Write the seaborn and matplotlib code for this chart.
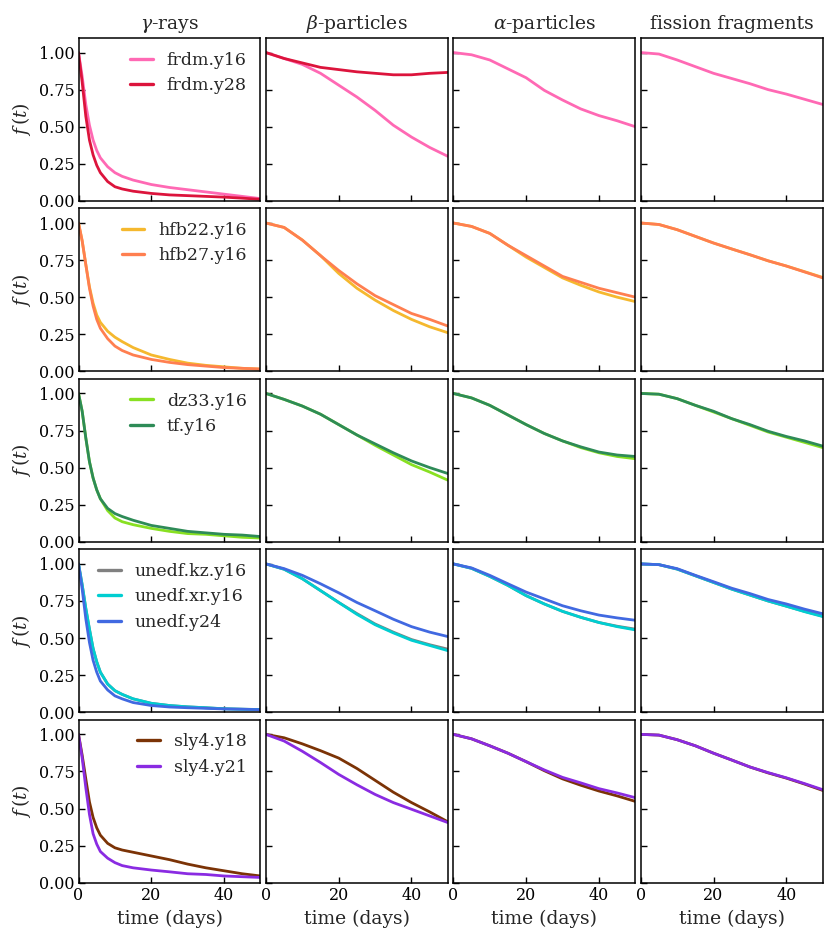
import numpy as np
import pandas as pd
import matplotlib
matplotlib.use('Agg')
import matplotlib.pyplot as plt
import seaborn as sns

# time grids (days)
t_gamma = [0, 1, 2, 3, 4, 5, 6, 8, 10, 12, 15, 20, 25, 30, 35, 40, 45, 50]
t_slow = [0, 5, 10, 15, 20, 25, 30, 35, 40, 45, 50]

rows = [['frdm.y16', 'frdm.y28'],
        ['hfb22.y16', 'hfb27.y16'],
        ['dz33.y16', 'tf.y16'],
        ['unedf.kz.y16', 'unedf.xr.y16', 'unedf.y24'],
        ['sly4.y18', 'sly4.y21']]

colors = {'frdm.y16': '#ff69b4', 'frdm.y28': '#dc143c',
          'hfb22.y16': '#f5b82e', 'hfb27.y16': '#ff7f50',
          'dz33.y16': '#88e022', 'tf.y16': '#2e8b57',
          'unedf.kz.y16': '#808080', 'unedf.xr.y16': '#00ced1', 'unedf.y24': '#4169e1',
          'sly4.y18': '#7b3306', 'sly4.y21': '#8a2be2'}

gamma = {
    'frdm.y16': [1.0, 0.84, 0.65, 0.51, 0.41, 0.34, 0.29, 0.23, 0.19, 0.165, 0.14, 0.11, 0.09, 0.075, 0.06, 0.045, 0.03, 0.015],
    'frdm.y28': [1.0, 0.80, 0.57, 0.41, 0.31, 0.24, 0.19, 0.13, 0.095, 0.08, 0.065, 0.05, 0.04, 0.035, 0.03, 0.025, 0.018, 0.01],
    'hfb22.y16': [1.0, 0.88, 0.72, 0.57, 0.46, 0.38, 0.33, 0.27, 0.23, 0.2, 0.16, 0.11, 0.08, 0.055, 0.04, 0.03, 0.02, 0.015],
    'hfb27.y16': [1.0, 0.88, 0.72, 0.56, 0.44, 0.35, 0.29, 0.22, 0.17, 0.14, 0.11, 0.08, 0.06, 0.045, 0.035, 0.025, 0.02, 0.015],
    'dz33.y16': [1.0, 0.88, 0.70, 0.54, 0.43, 0.35, 0.29, 0.21, 0.16, 0.135, 0.115, 0.09, 0.07, 0.055, 0.05, 0.04, 0.03, 0.025],
    'tf.y16': [1.0, 0.88, 0.70, 0.54, 0.43, 0.35, 0.29, 0.225, 0.19, 0.17, 0.145, 0.11, 0.09, 0.07, 0.06, 0.05, 0.045, 0.035],
    'unedf.kz.y16': [1.0, 0.86, 0.70, 0.56, 0.43, 0.34, 0.27, 0.19, 0.145, 0.12, 0.09, 0.06, 0.045, 0.036, 0.03, 0.023, 0.02, 0.018],
    'unedf.xr.y16': [1.0, 0.86, 0.70, 0.56, 0.43, 0.34, 0.27, 0.19, 0.145, 0.12, 0.09, 0.06, 0.045, 0.036, 0.03, 0.023, 0.02, 0.018],
    'unedf.y24': [1.0, 0.83, 0.63, 0.47, 0.35, 0.27, 0.21, 0.15, 0.11, 0.09, 0.065, 0.045, 0.035, 0.03, 0.026, 0.022, 0.02, 0.017],
    'sly4.y18': [1.0, 0.86, 0.70, 0.545, 0.44, 0.37, 0.32, 0.265, 0.235, 0.22, 0.205, 0.18, 0.155, 0.125, 0.10, 0.08, 0.06, 0.045],
    'sly4.y21': [1.0, 0.84, 0.64, 0.46, 0.33, 0.26, 0.21, 0.165, 0.135, 0.115, 0.10, 0.085, 0.073, 0.06, 0.055, 0.045, 0.04, 0.035],
}

beta = {
    'frdm.y16': [1.0, 0.96, 0.92, 0.86, 0.78, 0.70, 0.61, 0.51, 0.43, 0.36, 0.30],
    'frdm.y28': [1.0, 0.96, 0.93, 0.90, 0.885, 0.87, 0.86, 0.85, 0.85, 0.86, 0.866],
    'hfb22.y16': [1.0, 0.97, 0.885, 0.78, 0.66, 0.56, 0.48, 0.41, 0.35, 0.30, 0.26],
    'hfb27.y16': [1.0, 0.97, 0.885, 0.78, 0.68, 0.59, 0.51, 0.45, 0.39, 0.35, 0.305],
    'dz33.y16': [1.0, 0.96, 0.915, 0.86, 0.79, 0.72, 0.65, 0.585, 0.52, 0.47, 0.415],
    'tf.y16': [1.0, 0.96, 0.915, 0.86, 0.79, 0.72, 0.66, 0.60, 0.545, 0.50, 0.46],
    'unedf.kz.y16': [1.0, 0.964, 0.90, 0.82, 0.74, 0.665, 0.595, 0.54, 0.49, 0.455, 0.425],
    'unedf.xr.y16': [1.0, 0.964, 0.90, 0.82, 0.74, 0.66, 0.59, 0.535, 0.485, 0.45, 0.415],
    'unedf.y24': [1.0, 0.968, 0.923, 0.866, 0.805, 0.74, 0.684, 0.627, 0.577, 0.54, 0.51],
    'sly4.y18': [1.0, 0.977, 0.936, 0.89, 0.84, 0.77, 0.69, 0.61, 0.54, 0.477, 0.41],
    'sly4.y21': [1.0, 0.955, 0.886, 0.81, 0.73, 0.66, 0.595, 0.54, 0.495, 0.45, 0.405],
}

alpha = {
    'frdm.y16': [1.0, 0.985, 0.95, 0.89, 0.83, 0.745, 0.68, 0.62, 0.575, 0.54, 0.50],
    'hfb22.y16': [1.0, 0.977, 0.93, 0.85, 0.77, 0.70, 0.63, 0.58, 0.535, 0.50, 0.47],
    'hfb27.y16': [1.0, 0.977, 0.93, 0.85, 0.78, 0.71, 0.64, 0.60, 0.56, 0.53, 0.50],
    'dz33.y16': [1.0, 0.97, 0.92, 0.855, 0.79, 0.73, 0.68, 0.635, 0.60, 0.575, 0.56],
    'tf.y16': [1.0, 0.97, 0.92, 0.855, 0.79, 0.73, 0.68, 0.64, 0.605, 0.585, 0.575],
    'unedf.kz.y16': [1.0, 0.97, 0.916, 0.855, 0.786, 0.73, 0.68, 0.64, 0.605, 0.58, 0.56],
    'unedf.xr.y16': [1.0, 0.97, 0.916, 0.855, 0.786, 0.73, 0.68, 0.64, 0.605, 0.577, 0.555],
    'unedf.y24': [1.0, 0.973, 0.923, 0.866, 0.81, 0.764, 0.718, 0.684, 0.655, 0.636, 0.62],
    'sly4.y18': [1.0, 0.97, 0.923, 0.873, 0.816, 0.755, 0.70, 0.657, 0.618, 0.585, 0.548],
    'sly4.y21': [1.0, 0.97, 0.923, 0.873, 0.816, 0.76, 0.71, 0.673, 0.634, 0.605, 0.573],
}

fission = {
    'frdm.y16': [1.0, 0.99, 0.95, 0.905, 0.86, 0.825, 0.79, 0.75, 0.72, 0.685, 0.65],
    'hfb22.y16': [1.0, 0.99, 0.955, 0.91, 0.865, 0.825, 0.786, 0.745, 0.71, 0.672, 0.633],
    'hfb27.y16': [1.0, 0.99, 0.955, 0.91, 0.865, 0.825, 0.786, 0.745, 0.71, 0.67, 0.63],
    'dz33.y16': [1.0, 0.995, 0.965, 0.92, 0.875, 0.83, 0.785, 0.74, 0.705, 0.67, 0.635],
    'tf.y16': [1.0, 0.995, 0.965, 0.92, 0.88, 0.83, 0.79, 0.745, 0.71, 0.68, 0.645],
    'unedf.kz.y16': [1.0, 0.995, 0.965, 0.92, 0.875, 0.83, 0.79, 0.75, 0.715, 0.68, 0.648],
    'unedf.xr.y16': [1.0, 0.995, 0.965, 0.92, 0.875, 0.83, 0.79, 0.75, 0.715, 0.678, 0.645],
    'unedf.y24': [1.0, 0.995, 0.968, 0.923, 0.88, 0.836, 0.80, 0.76, 0.73, 0.695, 0.664],
    'sly4.y18': [1.0, 0.995, 0.964, 0.923, 0.873, 0.827, 0.78, 0.74, 0.705, 0.665, 0.622],
    'sly4.y21': [1.0, 0.995, 0.964, 0.923, 0.873, 0.827, 0.78, 0.742, 0.707, 0.668, 0.627],
}

columns = [(r'$\gamma$-rays', gamma, t_gamma),
           (r'$\beta$-particles', beta, t_slow),
           (r'$\alpha$-particles', alpha, t_slow),
           ('fission fragments', fission, t_slow)]

sns.set_theme(style='white')
plt.rcParams['font.family'] = ['DejaVu Serif']
plt.rcParams['mathtext.fontset'] = 'dejavuserif'
plt.rcParams['axes.edgecolor'] = 'black'
plt.rcParams['axes.linewidth'] = 1.1

fig, axes = plt.subplots(5, 4, figsize=(8.31, 9.43), dpi=100, sharex=True, sharey=True)
fig.subplots_adjust(left=0.0945, right=0.990, top=0.960, bottom=0.064, wspace=0.03, hspace=0.045)

for i, models in enumerate(rows):
    for j, (title, data, tt) in enumerate(columns):
        ax = axes[i, j]
        frames = []
        for m in models:
            if m in data:
                frames.append(pd.DataFrame({'t': tt, 'f': data[m], 'model': m}))
        df = pd.concat(frames)
        sns.lineplot(data=df, x='t', y='f', hue='model', hue_order=[m for m in models if m in data],
                     palette=colors, lw=2.0, ax=ax, legend=(j == 0))
        ax.set_xlim(0, 50)
        ax.set_ylim(0, 1.1)
        ax.set_xticks([0, 20, 40])
        ax.set_yticks([0, 0.25, 0.5, 0.75, 1.0])
        ax.yaxis.set_major_formatter(matplotlib.ticker.FormatStrFormatter('%.2f'))
        ax.tick_params(direction='in', length=4, width=1, colors='black', labelsize=11.5,
                       left=True, bottom=True, top=False, right=False, pad=3)
        for s in ax.spines.values():
            s.set_color('black')
        ax.set_xlabel('time (days)' if i == 4 else '', fontsize=13.5)
        ax.set_ylabel(r'$f\,(t)$' if j == 0 else '', fontsize=13.5, labelpad=4)
        if i == 0:
            ax.set_title(title, fontsize=13.5, pad=6)
        if j == 0:
            leg = ax.legend(loc='upper right', frameon=False, fontsize=12.5, handlelength=1.3,
                            handletextpad=0.8, borderaxespad=0.45, borderpad=0.35,
                            labelspacing=0.48)
            for h in leg.get_lines():
                h.set_linewidth(2.4)

fig.savefig('out.png', dpi=100)
